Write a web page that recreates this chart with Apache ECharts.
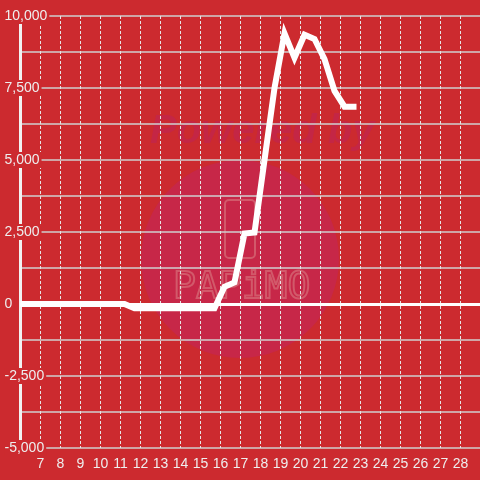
<!DOCTYPE html>
<html>
<head>
<meta charset="utf-8">
<script src="https://cdn.jsdelivr.net/npm/echarts@6/dist/echarts.min.js"></script>
<style>
  html, body { margin: 0; padding: 0; background: #cc2a2f; }
  #chart { width: 480px; height: 480px; }
</style>
</head>
<body>
<div id="chart"></div>
<script>
// day of month (x) and value (y)
const days = [6, 11.2, 11.7, 15.7, 16.2, 16.7, 17.2, 17.7, 18.2, 18.7, 19.2, 19.7, 20.2, 20.7, 21.2, 21.7, 22.2, 22.8];
const values = [0, 0, -150, -150, 600, 750, 2450, 2480, 5000, 7500, 9400, 8550, 9350, 9200, 8500, 7400, 6850, 6850];
const xMin = 6, xMax = 29;
const yTicks = [-5000, 10000, 2500];

let chartInstance = echarts.init(document.getElementById('chart'));
const bg = '#cc2a2f';
const option = {
  backgroundColor: bg,
  animation: false,
  grid: { left: 20.5, width: 460, top: 16, bottom: 32, outerBoundsMode: 'none', containLabel: false },
  graphic: [
    {
      type: 'circle', z: -10, silent: true,
      shape: { cx: 240, cy: 259, r: 99 },
      style: { fill: '#c72748' }
    },
    {
      type: 'text', z: -9, silent: true,
      left: 150, top: 112,
      style: { text: 'Powered by', fill: '#c42645', font: 'italic bold 40px "Liberation Sans"' }
    },
    {
      type: 'rect', z: -9, silent: true,
      shape: { x: 225, y: 200, width: 30, height: 58, r: 4 },
      style: { fill: 'none', stroke: '#d2596a', lineWidth: 2 }
    },
    {
      type: 'text', z: -9, silent: true,
      left: 172, top: 268,
      style: { text: 'PAPiMO', fill: 'none', stroke: '#d2596a', lineWidth: 2, font: '38px "DejaVu Sans Mono"' }
    }
  ],
  xAxis: {
    type: 'value',
    min: xMin,
    max: xMax,
    interval: 1,
    axisLine: { show: false },
    axisTick: { show: false },
    axisLabel: {
      color: '#eeeeee',
      fontSize: 14,
      fontFamily: 'Liberation Sans',
      margin: 9,
      formatter: v => (v === xMin || v === xMax) ? '' : String(v)
    },
    splitLine: {
      show: true,
      lineStyle: { color: '#e6e6e6', width: 1, type: [3, 2] }
    }
  },
  yAxis: {
    type: 'value',
    min: yTicks[0],
    max: yTicks[1],
    interval: yTicks[2],
    axisLine: { show: true, lineStyle: { color: '#f2f2f2', width: 3 } },
    axisTick: { show: false },
    axisLabel: {
      color: '#eeeeee',
      fontSize: 14,
      fontFamily: 'Liberation Sans',
      align: 'left',
      margin: 16,
      backgroundColor: bg,
      padding: [1, 2, 1, 0],
      formatter: v => v.toLocaleString('en-US')
    },
    splitLine: { show: true, lineStyle: { color: '#cfcfcf', width: 1.5 } },
    minorTick: { show: false, splitNumber: 2 },
    minorSplitLine: { show: true, lineStyle: { color: '#cfcfcf', width: 1.5 } }
  },
  series: [
    {
      type: 'line',
      data: days.map((d, i) => [d, values[i]]),
      symbol: 'none',
      lineStyle: { color: '#ffffff', width: 6, join: 'miter' },
      markLine: {
        silent: true,
        symbol: 'none',
        label: { show: false },
        lineStyle: { color: '#ffffff', width: 3, type: 'solid' },
        data: [{ yAxis: 0 }]
      }
    }
  ]
};
chartInstance.setOption(option);
</script>
</body>
</html>
